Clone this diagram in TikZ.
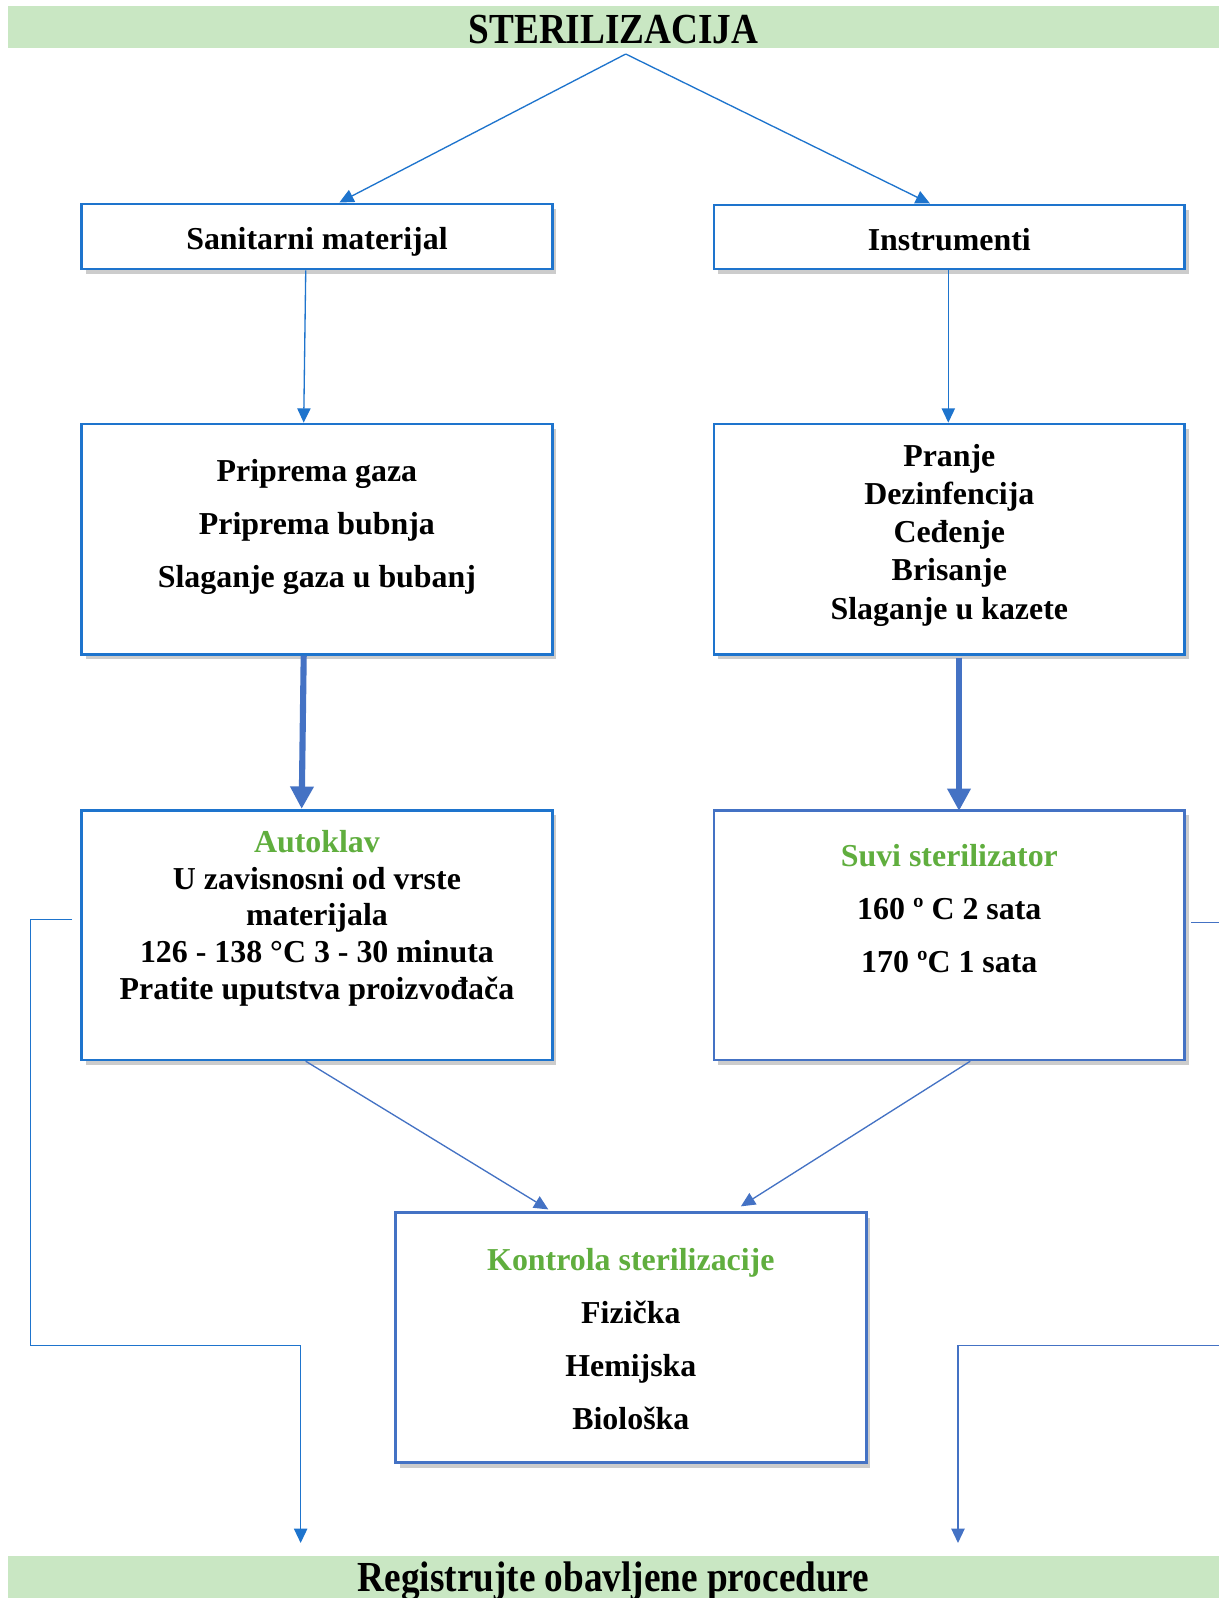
\documentclass[tikz,border=0pt]{standalone}
\usepackage{fontspec}
\setmainfont{Liberation Serif}
\newfontfamily\headfont{Liberation Serif}[FakeStretch=0.87]
\usetikzlibrary{arrows.meta,shadows,calc}
\definecolor{topblue}{RGB}{30,116,205}
\definecolor{lowblue}{RGB}{68,114,196}
\definecolor{bargreen}{RGB}{201,231,195}
\definecolor{txtgreen}{RGB}{96,174,62}
\begin{document}
\begin{tikzpicture}[x=1pt,y=-1pt,
  boxA/.style={draw=topblue,line width=2.6pt,fill=white,minimum width=462pt,inner sep=0pt,
    drop shadow={shadow xshift=4pt,shadow yshift=-5pt,opacity=0.4}},
  boxB/.style={boxA,draw=lowblue},
  txt/.style={font=\fontsize{31.3}{37}\selectfont\bfseries,align=center,inner sep=0pt},
  txtwide/.style={font=\fontsize{31.3}{52}\selectfont\bfseries,align=center,inner sep=0pt},
  txttight/.style={font=\fontsize{31.3}{37.5}\selectfont\bfseries,align=center,inner sep=0pt},
  txtmid/.style={font=\fontsize{31.3}{36.2}\selectfont\bfseries,align=center,inner sep=0pt},
  bar/.style={fill=bargreen,draw=none,inner sep=0pt},
  head/.style={font=\fontsize{42}{48}\headfont\bfseries,inner sep=0pt},
  thinA/.style={draw=topblue,line width=1.3pt,-{Triangle[length=14pt,width=13pt]}},
  thinB/.style={draw=lowblue,line width=1.3pt,-{Triangle[length=14pt,width=13pt]}},
  thick/.style={draw=lowblue,line width=6pt,-{Triangle[length=22pt,width=22pt]}},
  ]
\useasboundingbox (0,0) rectangle (1196,1568);
\fill[white] (0,0) rectangle (1196,1568);

% top bar
\node[bar,minimum width=1188pt,minimum height=41pt,anchor=north west] (topbar) at (8,6) {};
\node[head] (title) at (602,29) {STERILIZACIJA};
\coordinate (apex) at (614,53);

% row 1
\node[boxA,minimum height=64pt] (b1l) at (311,232) {};
\node[txt] (t1l) at (311,237) {Sanitarni materijal};
\node[boxA,minimum height=63pt] (b1r) at (931.5,232.5) {};
\node[txt] (t1r) at (931.5,235) {Instrumenti};

% row 2
\node[boxA,minimum height=226pt] (b2l) at (311,529) {};
\node[txtwide] (t2l) at (311,517) {Priprema gaza\\Priprema bubnja\\Slaganje gaza u bubanj};
\node[boxA,minimum height=226pt] (b2r) at (931.5,529) {};
\node[txttight] (t2r) at (931.5,525) {Pranje\\Dezinfencija\\Ceđenje\\Brisanje\\Slaganje u kazete};

% row 3
\node[boxA,minimum height=245pt] (b3l) at (311,917.5) {};
\node[txtmid] (t3l) at (311,901) {\textcolor{txtgreen}{Autoklav}\\U zavisnosni od vrste\\materijala\\126 - 138 °C 3 - 30 minuta\\Pratite uputstva proizvođača};
\node[boxB,minimum height=245pt] (b3r) at (931.5,917.5) {};
\node[txtwide] (t3r) at (931.5,892) {\textcolor{txtgreen}{Suvi sterilizator}\\160 º C 2 sata\\170 ºC 1 sata};

% row 4
\node[boxB,minimum height=245pt] (b4) at (619,1312.5) {};
\node[txtwide] (t4) at (619,1314) {\textcolor{txtgreen}{Kontrola sterilizacije}\\Fizička\\Hemijska\\Biološka};

% bottom bar
\node[bar,minimum width=1188pt,minimum height=42pt,anchor=north west] (botbar) at (8,1527) {};
\node[head,anchor=base] (foot) at (602,1562) {Registrujte obavljene procedure};

% connectors
\draw[thinA] (apex) -- ($(b1l.north)+(22,0)$);
\draw[thinA] (apex) -- ($(b1r.north)+(-19,0)$);
\draw[thinA] ($(b1l.south)+(-11,0)$) -- ($(b2l.north)+(-13,0)$);
\draw[thinA] ($(b1r.south)+(-1,0)$) -- ($(b2r.north)+(-1,0)$);
\draw[thick] ($(b2l.south)+(-13,0)$) -- ($(b3l.north)+(-15,0)$);
\draw[thick] ($(b2r.south)+(9.5,2)$) -- ($(b3r.north)+(9.5,2)$);
\draw[thinB] ($(b3l.south)+(-11,0)$) -- ($(b4.north)+(-81,-2)$);
\draw[thinB] ($(b3r.south)+(20.5,0)$) -- ($(b4.north)+(108,-5)$);
\draw[thinA] ($(b3l.west)+(-8,-15)$) -- (30,902.5) -- (30,1320) -- (295,1320) -- ($(botbar.north west)+(287,-13)$);
\draw[thinB] ($(b3r.east)+(5,-12)$) -- (1240,905.5) -- (1240,1320) -- (940,1320) -- ($(botbar.north west)+(932,-13)$);
\end{tikzpicture}
\end{document}
